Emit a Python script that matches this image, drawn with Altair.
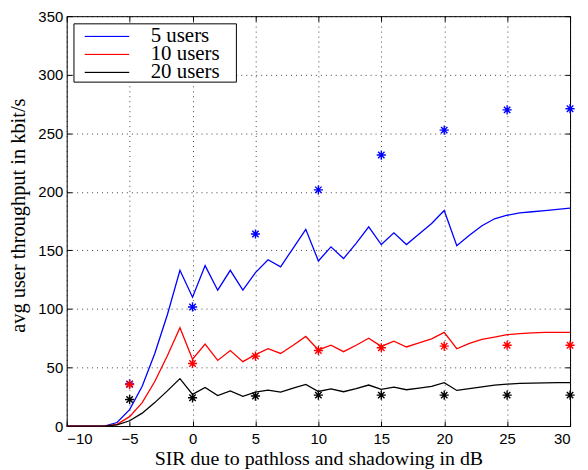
import altair as alt
import pandas as pd

# ---------------- data ----------------
sir = list(range(-10, 31))
series_names = ["5 users", "10 users", "20 users"]
series_colors = ["#0000ff", "#ff0000", "#000000"]

thr_5 = [0, 0, 0, 0, 3, 14, 34, 62, 95, 133, 110, 137, 116, 133, 116, 131, 142, 136,
         152, 168, 141, 153, 143, 156, 170, 155, 165, 155, 164, 173, 184, 154, 163,
         171, 177, 180, 182, 183, 184, 185, 186]
thr_10 = [0, 0, 0, 0, 1.5, 8, 20, 38, 60, 84, 57, 70, 56, 64.5, 55, 61, 66, 62, 69,
          76.5, 65, 69, 63.5, 69, 75, 68, 72.5, 67.5, 71, 74.5, 80, 66, 70.5, 74, 76,
          78, 79, 79.5, 80, 80, 80]
thr_20 = [0, 0, 0, 0, 1, 4.5, 11, 20, 30, 40.5, 27, 33, 26, 30, 25.3, 29, 30.7, 29,
          32.4, 35.5, 29.5, 31.8, 29.3, 32, 35, 31.3, 33.2, 31, 32.4, 33.8, 37, 30.4,
          32, 33.5, 35, 35.8, 36.4, 36.7, 36.9, 37, 37]

pt_sir = [-5, 0, 5, 10, 15, 20, 25, 30]
pt_5 = [36, 101.7, 164, 201.7, 231.4, 252.7, 270, 271]
pt_10 = [35.5, 53.4, 59.7, 64.5, 66.8, 68.2, 69, 69]
pt_20 = [22.7, 24.1, 25.6, 26.4, 26.4, 26.4, 26.4, 26.4]

x_ticks = [-10, -5, 0, 5, 10, 15, 20, 25, 30]
y_ticks = [0, 50, 100, 150, 200, 250, 300, 350]

# ---------------- tables ----------------
rows = []
for name, vals in zip(series_names, [thr_5, thr_10, thr_20]):
    for s, v in zip(sir, vals):
        rows.append({"sir": s, "thr": v, "series": name})
df_lines = pd.DataFrame(rows)

prow = []
for name, col, vals in zip(series_names, series_colors, [pt_5, pt_10, pt_20]):
    for s, v in zip(pt_sir, vals):
        prow.append({"sir": s, "thr": v, "series": name, "col": col})
df_pts = pd.DataFrame(prow)

SERIF = "Liberation Serif"
SANS = "Liberation Sans"
ASTERISK = "M0,-1L0,1M-1,0L1,0M-0.7,-0.7L0.7,0.7M-0.7,0.7L0.7,-0.7"

xscale = alt.Scale(domain=[-10, 30], nice=False, zero=False)
yscale = alt.Scale(domain=[0, 350], nice=False)

common_axis = dict(domain=False, offset=-5, tickSize=5, tickColor="black", tickWidth=1)

lines = alt.Chart(df_lines).mark_line(strokeWidth=1.3).encode(
    x=alt.X("sir:Q", scale=xscale,
            axis=alt.Axis(orient="bottom", values=x_ticks,
                          title="SIR due to pathloss and shadowing in dB",
                          grid=True, labelPadding=6, labelFont=SANS, labelFontSize=15,
                          titleFont=SERIF, titleFontSize=20, titleFontWeight="normal",
                          titleBaseline="alphabetic", titleY=44, titleX=253,
                          **common_axis)),
    y=alt.Y("thr:Q", scale=yscale,
            axis=alt.Axis(orient="left", values=y_ticks,
                          title="avg user throughput in kbit/s",
                          grid=True, labelPadding=4, labelFont=SANS, labelFontSize=15,
                          titleFont=SERIF, titleFontSize=20.5, titleFontWeight="normal",
                          titleBaseline="alphabetic", titleX=-47, titleY=200,
                          titleAngle=270,
                          **common_axis)),
    color=alt.Color("series:N",
                    scale=alt.Scale(domain=series_names, range=series_colors),
                    sort=series_names,
                    legend=alt.Legend(title=None, orient="none", legendX=7.3, legendY=17.4,
                                      symbolType="stroke", symbolSize=2000,
                                      symbolStrokeWidth=1.3, symbolOffset=7.7,
                                      labelFont=SERIF,
                                      labelFontSize=21, labelColor="black",
                                      labelOffset=20.4, padding=2,
                                      clipHeight=2, rowPadding=-3.0)),
)

points = alt.Chart(df_pts).mark_point(shape=ASTERISK, filled=False, size=85,
                                      strokeWidth=1.4, opacity=1).encode(
    x=alt.X("sir:Q", scale=xscale, axis=None),
    y=alt.Y("thr:Q", scale=yscale, axis=None),
    color=alt.Color("col:N", scale=None),
)

# legend frame (white box with black border behind the legend entries)
legend_box = alt.Chart(pd.DataFrame({"k": [0]})).mark_rect(
    fill="white", stroke="black", strokeWidth=1
).encode(
    x=alt.value(7.3), x2=alt.value(170.6), y=alt.value(7.7), y2=alt.value(66.3)
)

frame_axes = alt.Chart(df_lines).mark_point(opacity=0).encode(
    x=alt.X("sir:Q", scale=xscale,
            axis=alt.Axis(orient="top", values=x_ticks, labels=False, title=None,
                          grid=False, **common_axis)),
    y=alt.Y("thr:Q", scale=yscale,
            axis=alt.Axis(orient="right", values=y_ticks, labels=False, title=None,
                          grid=False, **common_axis)),
)

chart = alt.layer(lines, points, legend_box, frame_axes).resolve_axis(
    x="independent", y="independent"
).properties(
    width=506, height=412,
    autosize=alt.AutoSizeParams(type="none"),
    padding={"left": 59, "top": 7, "right": 10, "bottom": 47},
    background="white",
).configure_view(
    stroke="black", strokeWidth=1
).configure_axis(
    gridColor="#000000", gridOpacity=0.75, gridDash=[1, 4], gridWidth=1,
    labelColor="black", titleColor="black",
)

chart.save("out.html", embed_options={"renderer": "svg", "actions": False})
